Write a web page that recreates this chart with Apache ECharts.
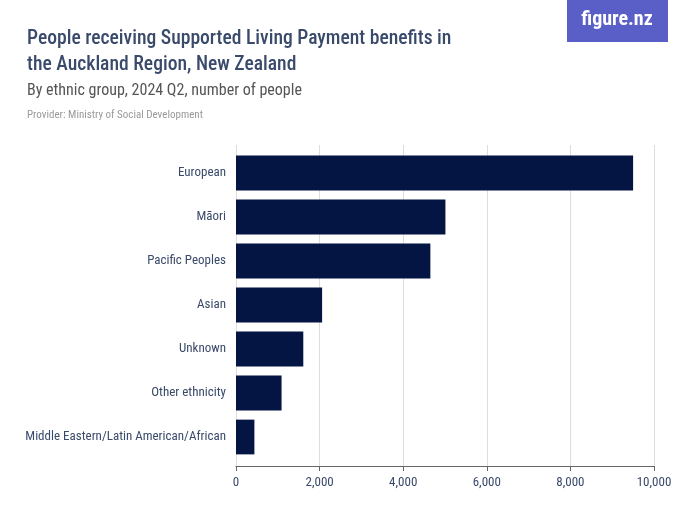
<!DOCTYPE html>
<html><head><meta charset="utf-8">
<script src="https://cdn.jsdelivr.net/npm/echarts@6/dist/echarts.min.js"></script>
<style>html,body{margin:0;padding:0;background:#fff}#c{width:700px;height:525px}</style>
</head><body><div id="c"></div>
<script>
const categories = ["European","Māori","Pacific Peoples","Asian","Unknown","Other ethnicity","Middle Eastern/Latin American/African"];
const values = [9500, 5010, 4650, 2060, 1610, 1090, 440];
const xTicks = [0, 2000, 4000, 6000, 8000, 10000];

const font = "'Roboto Condensed','Liberation Sans Narrow','Liberation Sans',sans-serif";
const chart = echarts.init(document.getElementById('c'), null, {renderer:'canvas'});
chart.setOption({
  animation:false,
  backgroundColor:'#fff',
  title:[
    {text:'People receiving Supported Living Payment benefits in\nthe Auckland Region, New Zealand', left:22, top:21,
     textStyle:{fontFamily:font, fontSize:19.6, fontWeight:500, color:'#3a4a6b', lineHeight:26}},
    {text:'By ethnic group, 2024 Q2, number of people', left:22, top:78,
     textStyle:{fontFamily:font, fontSize:16, fontWeight:'normal', color:'#555'}},
    {text:'Provider: Ministry of Social Development', left:22, top:105,
     textStyle:{fontFamily:font, fontSize:11, fontWeight:'normal', color:'#999'}}
  ],
  graphic:[
    {type:'rect', shape:{x:567,y:0,width:101,height:42}, style:{fill:'#5a5fc8'}},
    {type:'text', x:617, y:20, style:{text:'figure.nz', fill:'#fff', font:"bold 20px 'Roboto Condensed','DejaVu Serif Condensed',serif", textAlign:'center', textVerticalAlign:'middle'}}
  ],
  grid:[
    {left:236, right:46, top:151, bottom:66, containLabel:false},
    {left:236, right:46, top:145, bottom:59, containLabel:false}
  ],
  xAxis:[
    {type:'value', gridIndex:0, min:0, max:10000, interval:2000, show:false,
      splitLine:{show:false}},
    {type:'value', gridIndex:1, min:0, max:10000, interval:2000,
      axisLine:{show:true, lineStyle:{color:'#666'}},
      axisTick:{show:true, length:5, lineStyle:{color:'#666'}},
      splitLine:{show:true, lineStyle:{color:'#ddd'}},
      axisLabel:{fontFamily:font, fontSize:13, color:'#3a4a6b', margin:10,
        formatter:v=>xTicks.includes(v)?v.toLocaleString('en-US'):''}}
  ],
  yAxis:[
    {type:'category', gridIndex:0, data:categories, inverse:true,
      axisLine:{show:false}, axisTick:{show:false},
      axisLabel:{fontFamily:font, fontSize:13, color:'#3a4a6b', margin:10}},
    {type:'category', gridIndex:1, data:categories, show:false}
  ],
  series:[{type:'bar', xAxisIndex:0, yAxisIndex:0, data:values, barCategoryGap:'21%', itemStyle:{color:'#041443'}}]
});
</script></body></html>
